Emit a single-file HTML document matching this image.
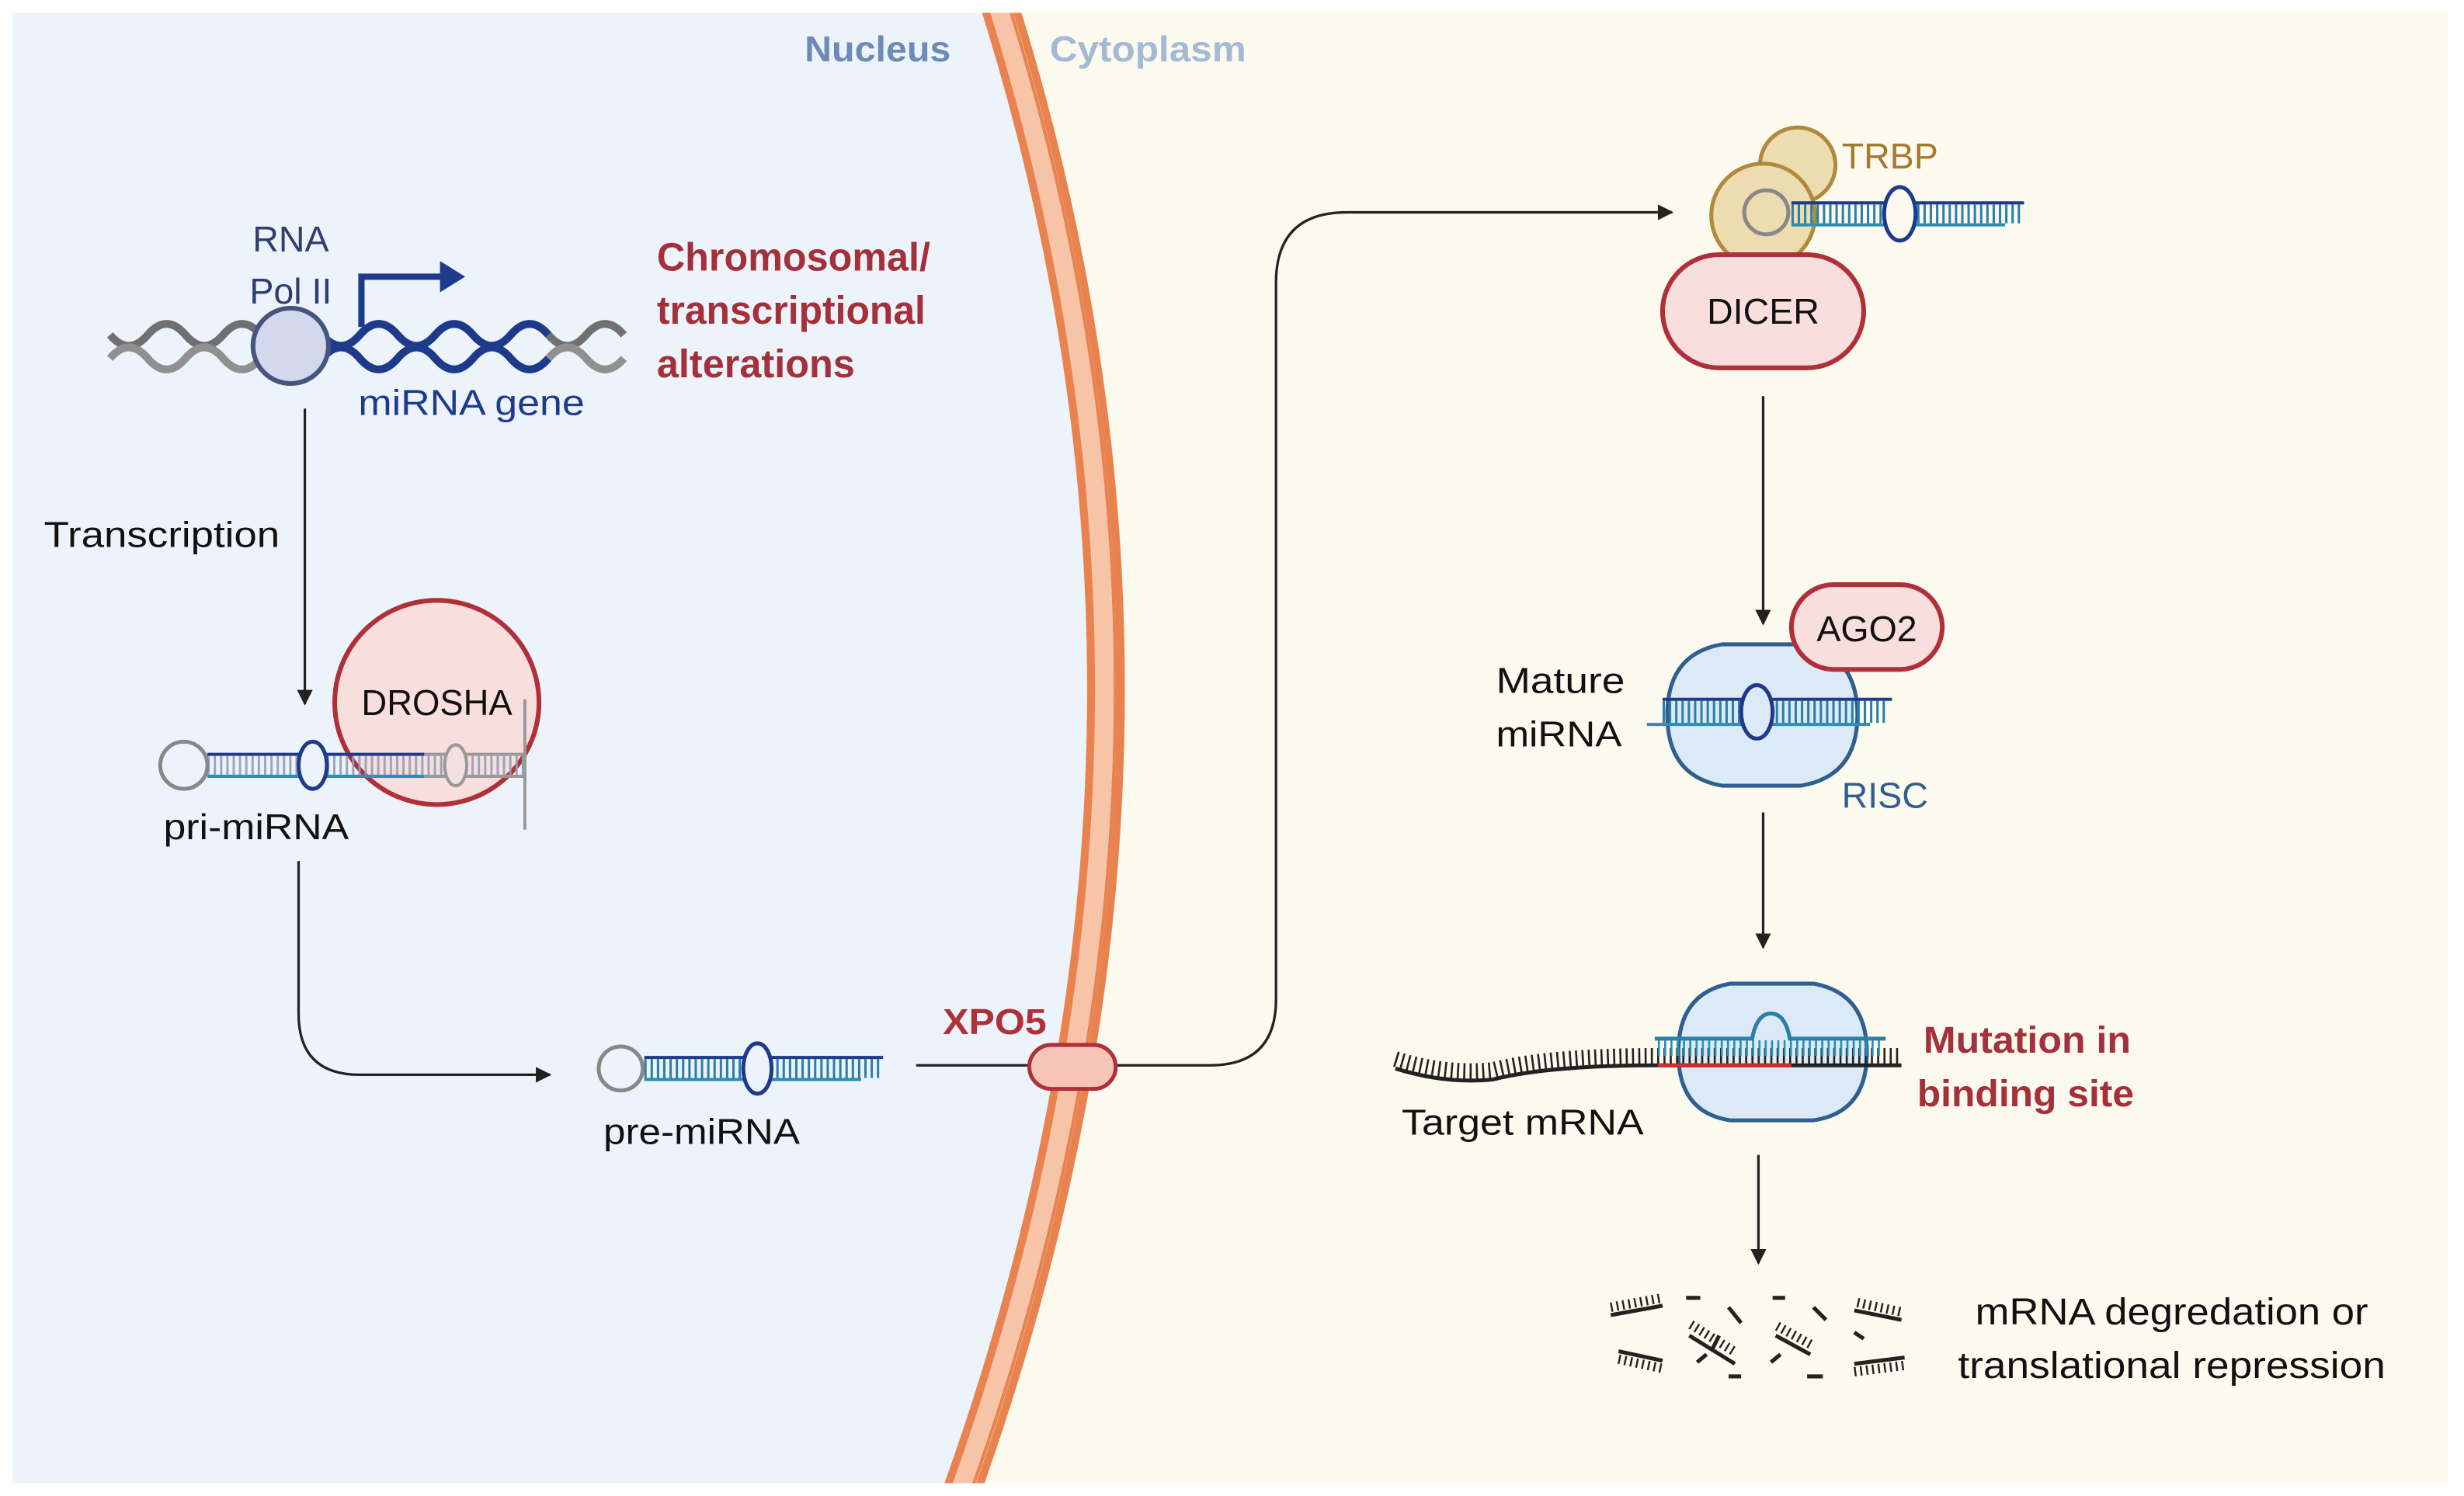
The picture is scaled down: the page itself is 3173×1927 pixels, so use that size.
<!DOCTYPE html>
<html><head><meta charset="utf-8"><style>
html,body{margin:0;padding:0;background:#fff}
svg{display:block}
text{font-family:"Liberation Sans",sans-serif}
</style></head><body>
<svg width="3173" height="1927" viewBox="0 0 1568 952" xmlns="http://www.w3.org/2000/svg">
<defs>
<marker id="ah" markerWidth="10" markerHeight="10" refX="9" refY="5" orient="auto" markerUnits="userSpaceOnUse"><path d="M0,0 L10,5 L0,10 z" fill="#222"/></marker>
<clipPath id="panel"><rect x="8" y="8" width="1550" height="936"/></clipPath>
</defs>
<rect width="1568" height="952" fill="#fff"/>
<g clip-path="url(#panel)">
<rect x="8" y="8" width="1550" height="936" fill="#fcf9ee"/>
<path d="M8,8 L635,8 Q785,476 608,944 L8,944 z" fill="#edf3fb"/>
<path d="M635,0 Q785,476 608,960" fill="none" stroke="#e8834f" stroke-width="24"/>
<path d="M635,0 Q785,476 608,960" fill="none" stroke="#f7c4a8" stroke-width="14"/>
<path d="M641,0 Q791,476 614,960" fill="none" stroke="#e8834f" stroke-width="2"/>
</g>
<g lengthAdjust="spacingAndGlyphs">
<text x="512" y="39" font-size="23" font-weight="bold" fill="#6d8bb6" textLength="93" lengthAdjust="spacingAndGlyphs">Nucleus</text>
<text x="668" y="39" font-size="23" font-weight="bold" fill="#a3bad6" textLength="125" lengthAdjust="spacingAndGlyphs">Cytoplasm</text>
</g>

<!-- DNA -->
<g fill="none" stroke-width="5">
<path d="M70,213 q12,14 24,0 t24,0 t24,0 t24,0" stroke="#707070"/>
<path d="M70,228 q12,-14 24,0 t24,0 t24,0 t24,0" stroke="#909090"/>
<path d="M205,213 q12,14 24,0 t24,0 t24,0 t24,0 t24,0 t24,0" stroke="#1e3a8a"/>
<path d="M205,228 q12,-14 24,0 t24,0 t24,0 t24,0 t24,0 t24,0" stroke="#1e3a8a"/>
<path d="M349,213 q12,14 24,0 t24,0" stroke="#707070"/>
<path d="M349,228 q12,-14 24,0 t24,0" stroke="#909090"/>
</g>
<circle cx="185" cy="220" r="24" fill="#d3d8ec" stroke="#45557f" stroke-width="3"/>
<path d="M230,208 V176 H282" fill="none" stroke="#1e3a8a" stroke-width="4"/>
<path d="M280,166 L296,176 L280,186 z" fill="#1e3a8a"/>
<text x="185" y="160" font-size="23" fill="#2e3f6e" text-anchor="middle">RNA</text>
<text x="185" y="193" font-size="23" fill="#2e3f6e" text-anchor="middle">Pol II</text>
<text x="228" y="264" font-size="23" fill="#1e3a8a" textLength="144" lengthAdjust="spacingAndGlyphs">miRNA gene</text>
<g font-size="25" font-weight="bold" fill="#a3303a">
<text x="418" y="172" textLength="174" lengthAdjust="spacingAndGlyphs">Chromosomal/</text>
<text x="418" y="206" textLength="171" lengthAdjust="spacingAndGlyphs">transcriptional</text>
<text x="418" y="240" textLength="126" lengthAdjust="spacingAndGlyphs">alterations</text>
</g>

<!-- transcription -->
<line x1="194" y1="260" x2="194" y2="448" stroke="#222" stroke-width="1.6" marker-end="url(#ah)"/>
<text x="28" y="348" font-size="23" fill="#111" textLength="150" lengthAdjust="spacingAndGlyphs">Transcription</text>

<!-- pri-miRNA -->
<circle cx="278" cy="447" r="65" fill="#f9dede" stroke="#b0303a" stroke-width="3"/>
<g fill="none">
<line x1="132" y1="487" x2="335" y2="487" stroke="#8fa0b8" stroke-width="12" stroke-dasharray="1.5 2.5" opacity="0.9"/>
<line x1="132" y1="480" x2="270" y2="480" stroke="#1e3a8a" stroke-width="2"/>
<line x1="132" y1="494" x2="270" y2="494" stroke="#2a8fb0" stroke-width="2"/>
<line x1="270" y1="480" x2="335" y2="480" stroke="#999" stroke-width="2"/>
<line x1="270" y1="494" x2="335" y2="494" stroke="#999" stroke-width="2"/>
<circle cx="117" cy="487" r="15" fill="#edf3fb" stroke="#888" stroke-width="2.5"/>
<ellipse cx="199" cy="487" rx="9" ry="15" fill="#edf3fb" stroke="#1e3a8a" stroke-width="2.5"/>
<ellipse cx="290" cy="487" rx="7" ry="13" fill="#f3e0e0" stroke="#999" stroke-width="2"/>
<line x1="334" y1="445" x2="334" y2="528" stroke="#999" stroke-width="2"/>
</g>
<text x="278" y="455" font-size="23" fill="#111" text-anchor="middle" textLength="96" lengthAdjust="spacingAndGlyphs">DROSHA</text>
<text x="104" y="534" font-size="23" fill="#111" textLength="118" lengthAdjust="spacingAndGlyphs">pri-miRNA</text>

<path d="M190,548 V645 Q190,684 229,684 H350" fill="none" stroke="#222" stroke-width="1.6" marker-end="url(#ah)"/>

<!-- pre-miRNA -->
<line x1="410" y1="680" x2="560" y2="680" stroke="#2a7fa8" stroke-width="12" stroke-dasharray="1.5 2.5"/>
<line x1="410" y1="673" x2="562" y2="673" stroke="#1e3a8a" stroke-width="2"/>
<line x1="410" y1="687" x2="548" y2="687" stroke="#2a8fb0" stroke-width="2"/>
<circle cx="395" cy="680" r="14" fill="#edf3fb" stroke="#888" stroke-width="2.5"/>
<ellipse cx="482" cy="680" rx="9" ry="16" fill="#edf3fb" stroke="#1e3a8a" stroke-width="2.5"/>
<text x="384" y="728" font-size="23" fill="#111" textLength="125" lengthAdjust="spacingAndGlyphs">pre-miRNA</text>

<!-- export -->
<path d="M583,678 H770 Q812,678 812,636 V180 Q812,135 857,135 H1064" fill="none" stroke="#222" stroke-width="1.6" marker-end="url(#ah)"/>
<rect x="655" y="665" width="55" height="28" rx="14" fill="#f7c4b8" stroke="#b0303a" stroke-width="2.5"/>
<text x="600" y="658" font-size="23" font-weight="bold" fill="#b0303a" textLength="66" lengthAdjust="spacingAndGlyphs">XPO5</text>

<!-- Dicer -->
<circle cx="1144" cy="105" r="24" fill="#ecdcb0" stroke="#b08a3c" stroke-width="2.5"/>
<circle cx="1122" cy="137" r="33" fill="#ecdcb0" stroke="#b08a3c" stroke-width="2.5"/>
<line x1="1140" y1="136" x2="1286" y2="136" stroke="#2a7fa8" stroke-width="12" stroke-dasharray="1.5 2.5"/>
<line x1="1140" y1="129" x2="1288" y2="129" stroke="#1e3a8a" stroke-width="2"/>
<line x1="1140" y1="143" x2="1276" y2="143" stroke="#2a8fb0" stroke-width="2"/>
<circle cx="1124" cy="135" r="14" fill="#ecdcb0" stroke="#888" stroke-width="2.5"/>
<ellipse cx="1209" cy="136" rx="10" ry="17" fill="#fcf9ee" stroke="#1e3a8a" stroke-width="2.5"/>
<text x="1172" y="107" font-size="23" fill="#a37a2e">TRBP</text>
<rect x="1058" y="162" width="128" height="72" rx="36" fill="#f9dede" stroke="#b0303a" stroke-width="3"/>
<text x="1122" y="206" font-size="23" fill="#111" text-anchor="middle">DICER</text>

<line x1="1122" y1="252" x2="1122" y2="397" stroke="#222" stroke-width="1.6" marker-end="url(#ah)"/>

<!-- RISC 1 -->
<path d="M1096,410 H1146 Q1182,416 1182,455 Q1182,494 1146,500 H1096 Q1061,494 1061,455 Q1061,416 1096,410 z" fill="#dceaf7" stroke="#2e5f8f" stroke-width="2.5"/>
<line x1="1058" y1="453" x2="1200" y2="453" stroke="#2a7fa8" stroke-width="14" stroke-dasharray="1.5 2.5"/>
<line x1="1058" y1="445" x2="1204" y2="445" stroke="#1e3a8a" stroke-width="2"/>
<line x1="1048" y1="461" x2="1190" y2="461" stroke="#2a8fb0" stroke-width="2"/>
<ellipse cx="1118" cy="453" rx="10" ry="17" fill="#dceaf7" stroke="#1e3a8a" stroke-width="2.5"/>
<rect x="1140" y="372" width="96" height="54" rx="27" fill="#f9dede" stroke="#b0303a" stroke-width="3"/>
<text x="1188" y="408" font-size="23" fill="#111" text-anchor="middle">AGO2</text>
<text x="952" y="441" font-size="23" fill="#111" textLength="82" lengthAdjust="spacingAndGlyphs">Mature</text>
<text x="952" y="475" font-size="23" fill="#111" textLength="80" lengthAdjust="spacingAndGlyphs">miRNA</text>
<text x="1172" y="514" font-size="23" fill="#2e5f8f">RISC</text>

<line x1="1122" y1="517" x2="1122" y2="603" stroke="#222" stroke-width="1.6" marker-end="url(#ah)"/>

<!-- RISC 2 -->
<path d="M1101,626 H1154 Q1188,632 1188,670 Q1188,708 1154,713 H1101 Q1068,708 1068,670 Q1068,632 1101,626 z" fill="#dceaf7" stroke="#2e5f8f" stroke-width="2.5"/>
<path d="M888,680 Q920,690 950,687 Q985,678 1055,678 H1210" fill="none" stroke="#222" stroke-width="2.5"/>
<path d="M888,674 Q920,684 950,681 Q985,672 1055,672 H1210" fill="none" stroke="#222" stroke-width="10" stroke-dasharray="1.3 2.7"/>
<line x1="1055" y1="678" x2="1140" y2="678" stroke="#d42a2a" stroke-width="2.5"/>
<line x1="1055" y1="667" x2="1198" y2="667" stroke="#2a8fb0" stroke-width="10" stroke-dasharray="1.3 2.7"/>
<path d="M1053,661 H1115 Q1118,645 1127,645 Q1136,645 1139,661 H1200" fill="none" stroke="#2a7fa8" stroke-width="2.5"/>
<text x="1224" y="670" font-size="24" font-weight="bold" fill="#a3303a" textLength="132" lengthAdjust="spacingAndGlyphs">Mutation in</text>
<text x="1220" y="704" font-size="24" font-weight="bold" fill="#a3303a" textLength="138" lengthAdjust="spacingAndGlyphs">binding site</text>
<text x="892" y="722" font-size="23" fill="#111" textLength="154" lengthAdjust="spacingAndGlyphs">Target mRNA</text>

<line x1="1119" y1="735" x2="1119" y2="804" stroke="#222" stroke-width="1.6" marker-end="url(#ah)"/>

<!-- fragments -->
<g stroke="#222" fill="none">
<g stroke-width="2.5">
<line x1="1025" y1="837" x2="1058" y2="831"/><line x1="1030" y1="860" x2="1058" y2="866"/>
<line x1="1073" y1="826" x2="1082" y2="826"/><line x1="1075" y1="850" x2="1104" y2="868"/>
<line x1="1128" y1="826" x2="1136" y2="826"/><line x1="1130" y1="850" x2="1152" y2="862"/>
<line x1="1180" y1="834" x2="1210" y2="840"/><line x1="1180" y1="868" x2="1212" y2="864"/>
<line x1="1100" y1="832" x2="1108" y2="842"/><line x1="1154" y1="832" x2="1162" y2="840"/>
<line x1="1080" y1="867" x2="1086" y2="862"/><line x1="1127" y1="867" x2="1133" y2="862"/>
<line x1="1100" y1="876" x2="1108" y2="876"/><line x1="1150" y1="876" x2="1160" y2="876"/>
<line x1="1180" y1="848" x2="1186" y2="852"/><line x1="1090" y1="858" x2="1094" y2="850"/>
</g>
<g stroke-width="6" stroke-dasharray="1.2 2.6">
<line x1="1025" y1="832" x2="1058" y2="826"/><line x1="1030" y1="865" x2="1058" y2="871"/>
<line x1="1076" y1="843" x2="1105" y2="861"/><line x1="1131" y1="844" x2="1153" y2="856"/>
<line x1="1182" y1="829" x2="1210" y2="835"/><line x1="1180" y1="873" x2="1212" y2="869"/>
</g>
</g>
<text x="1382" y="843" font-size="24" fill="#111" text-anchor="middle" textLength="250" lengthAdjust="spacingAndGlyphs">mRNA degredation or</text>
<text x="1382" y="877" font-size="24" fill="#111" text-anchor="middle" textLength="272" lengthAdjust="spacingAndGlyphs">translational repression</text>
</svg>
</body></html>
